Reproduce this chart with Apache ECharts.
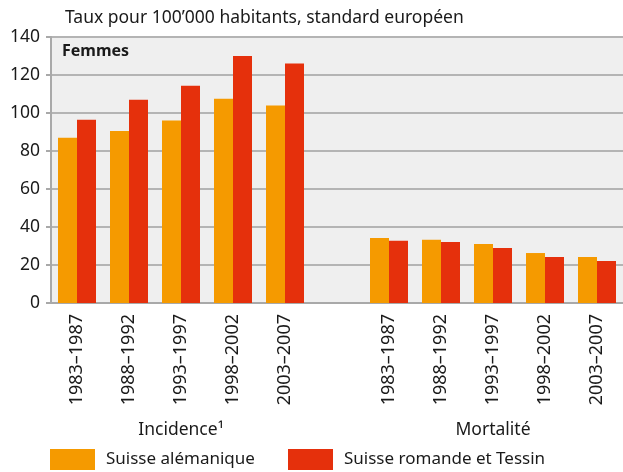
<!DOCTYPE html>
<html>
<head>
<meta charset="utf-8">
<script src="https://cdn.jsdelivr.net/npm/echarts@6/dist/echarts.min.js"></script>
<style>
  html, body { margin: 0; padding: 0; background: #fff; }
  #main { width: 623px; height: 472px; }
</style>
</head>
<body>
<div id="main"></div>
<script>
// periods, with an empty slot between incidence and mortality
var categories = ['1983–1987', '1988–1992', '1993–1997', '1998–2002', '2003–2007', '',
  '1983–1987', '1988–1992', '1993–1997', '1998–2002', '2003–2007']
var groupLabels = ['', '', 'Incidence¹', '', '', '', '', '', 'Mortalité', '', '']
var alemanique = [87, 90.5, 96, 107.5, 104, null, 34.2, 33.3, 31.1, 26.3, 24.2]
var romande = [96.5, 107, 114.3, 130, 126, null, 32.7, 32.1, 28.9, 24.2, 22.1]
var yTicks = { min: 0, max: 140, interval: 20 }

var font = 'Noto Sans'
var axisGrey = '#a9a9a9'

var myChart = echarts.init(document.getElementById('main'))
myChart.setOption({
  animation: false,
  textStyle: { fontFamily: font },
  title: [
    {
      text: 'Taux pour 100’000 habitants, standard européen',
      left: 60,
      top: 4,
      textStyle: { fontSize: 17.5, fontWeight: 'normal', color: '#1a1a1a', fontFamily: font }
    },
    {
      text: 'Femmes',
      left: 57,
      top: 38,
      textStyle: { fontSize: 16, fontWeight: 'bold', color: '#1a1a1a', fontFamily: font }
    }
  ],
  legend: [
    {
      data: ['Suisse alémanique'],
      left: 50,
      top: 449,
      padding: 0,
      icon: 'rect',
      itemWidth: 45,
      itemHeight: 21,
      textStyle: { fontSize: 17, color: '#1a1a1a', padding: [0, 0, 0, 6], fontFamily: font }
    },
    {
      data: ['Suisse romande et Tessin'],
      left: 288,
      top: 449,
      padding: 0,
      icon: 'rect',
      itemWidth: 45,
      itemHeight: 21,
      textStyle: { fontSize: 17, color: '#1a1a1a', padding: [0, 0, 0, 6], fontFamily: font }
    }
  ],
  grid: {
    left: 51,
    right: -9,
    top: 37,
    bottom: 169,
    show: true,
    backgroundColor: '#efefef',
    borderWidth: 0
  },
  xAxis: [
    {
      type: 'category',
      data: categories,
      axisTick: { show: false },
      axisLine: { lineStyle: { color: axisGrey, width: 2 } },
      axisLabel: { rotate: 90, fontSize: 18, color: '#1a1a1a', margin: 11, interval: 0 }
    },
    {
      type: 'category',
      data: groupLabels,
      position: 'bottom',
      offset: 110,
      axisTick: { show: false },
      axisLine: { show: false },
      axisLabel: { fontSize: 17.5, color: '#1a1a1a', interval: 0 }
    }
  ],
  yAxis: {
    type: 'value',
    min: yTicks.min,
    max: yTicks.max,
    interval: yTicks.interval,
    axisLine: { show: true, lineStyle: { color: axisGrey, width: 2 } },
    axisTick: { show: true, length: 5, lineStyle: { color: axisGrey, width: 2 } },
    axisLabel: { fontSize: 17.5, color: '#1a1a1a', margin: 11 },
    splitLine: { lineStyle: { color: '#b4b4b4', width: 2 } }
  },
  series: [
    {
      name: 'Suisse alémanique',
      type: 'bar',
      data: alemanique,
      barWidth: 19,
      barGap: '0%',
      itemStyle: { color: '#f59a00' }
    },
    {
      name: 'Suisse romande et Tessin',
      type: 'bar',
      data: romande,
      barWidth: 19,
      barGap: '0%',
      itemStyle: { color: '#e5300c' }
    }
  ]
})
</script>
</body>
</html>
